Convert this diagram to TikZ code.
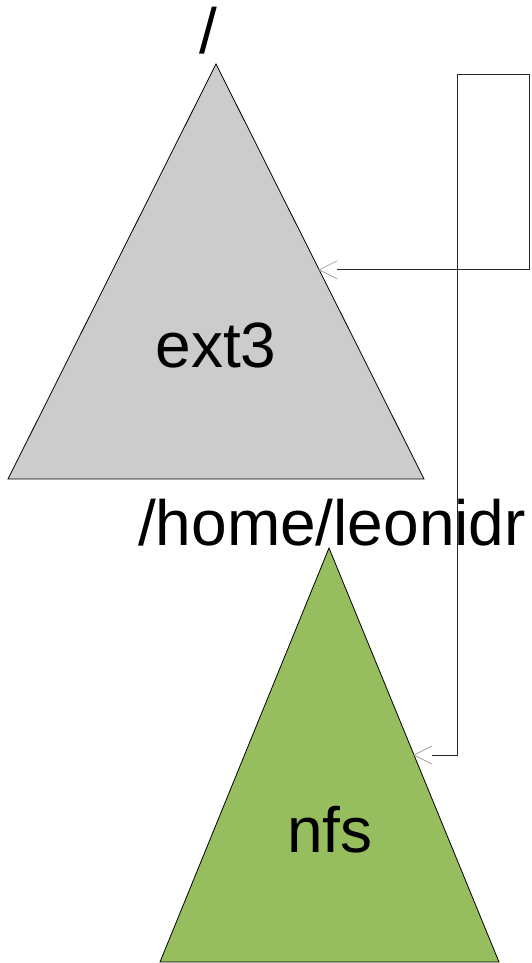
\documentclass[tikz,border=0pt]{standalone}
\usepackage{fontspec}
\setmainfont{Liberation Sans}
\usetikzlibrary{calc}
\definecolor{rootgray}{RGB}{204,204,204}
\definecolor{nfsgreen}{RGB}{151,190,94}
\definecolor{linkline}{RGB}{40,40,40}
\definecolor{headgray}{RGB}{160,160,160}
\begin{document}
\begin{tikzpicture}[x=1pt,y=-1pt,
  fsshape/.style={draw=black,line width=0.8pt,line join=miter},
  bigtext/.style={font=\fontsize{64}{76}\selectfont,inner sep=0pt,anchor=base},
  link/.style={draw=linkline,line width=0.9pt},
  linkhead/.style={draw=headgray,line width=0.7pt}]
\useasboundingbox (0,0) rectangle (531,963);

% root filesystem
\coordinate (rA) at (216,64);
\coordinate (rL) at (8,479);
\coordinate (rR) at (424,479);
\filldraw[fsshape,fill=rootgray] (rA) -- (rR) -- (rL) -- cycle;
\node[bigtext] (rootlbl) at (208,54) {/};
\node[bigtext] (ext) at (216,367) {ext3};

% mounted filesystem
\coordinate (hA) at (329,548);
\coordinate (hL) at (160,962);
\coordinate (hR) at (499,962);
\filldraw[fsshape,fill=nfsgreen] (hA) -- (hR) -- (hL) -- cycle;
\node[bigtext] (homelbl) at (332,545) {/home/leonidr};
\node[bigtext] (nfs) at (330,852) {nfs};

% mount link between the two trees
\coordinate (t1) at ($(rA)!0.496!(rR)$);
\coordinate (t2) at ($(hA)!0.5!(hR)$);
\coordinate (c1) at (529,74);
\coordinate (c2) at (457,74);
\coordinate (b1) at ($(t1)+(18,0)$);
\coordinate (b2) at ($(t2)+(18,0)$);
\draw[link] (b1) -- (t1 -| c1) -- (c1) -- (c2) -- (c2 |- t2) -- (b2);
\draw[linkhead] ($(t1)+(18,-9)$) -- (t1) -- ($(t1)+(18,9)$);
\draw[linkhead] ($(t2)+(18,-9)$) -- (t2) -- ($(t2)+(18,9)$);
\end{tikzpicture}
\end{document}
